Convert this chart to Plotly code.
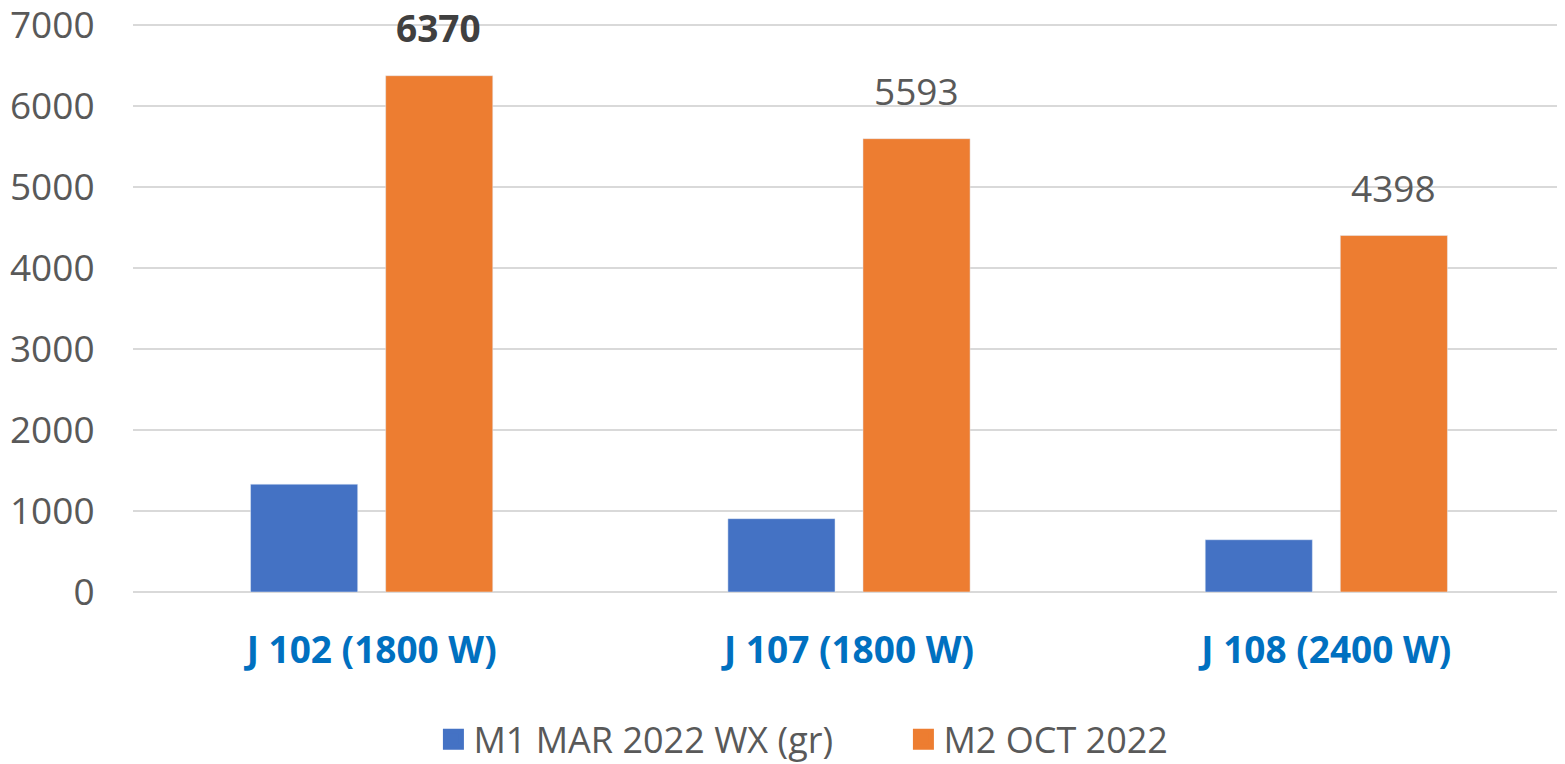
import plotly.graph_objects as go

categories = ["J 102 (1800 W)", "J 107 (1800 W)", "J 108 (2400 W)"]
series1_name = "M1 MAR 2022 WX (gr)"
series1_values = [1330, 905, 645]
series2_name = "M2 OCT 2022"
series2_values = [6370, 5593, 4398]
y_ticks = [0, 1000, 2000, 3000, 4000, 5000, 6000, 7000]

FONT = "Open Sans"
GRAY = "#595959"
BLUE = "#4472C4"
ORANGE = "#ED7D31"

fig = go.Figure()
fig.add_trace(go.Bar(x=categories, y=series1_values, name=series1_name,
                     marker=dict(color=BLUE), showlegend=False))
fig.add_trace(go.Bar(x=categories, y=series2_values, name=series2_name,
                     marker=dict(color=ORANGE), showlegend=False))
# legend entries (larger square keys)
for nm, col in [(series1_name, BLUE), (series2_name, ORANGE)]:
    fig.add_trace(go.Scatter(x=[None], y=[None], mode="markers", name=nm,
                             marker=dict(symbol="square", size=16, color=col,
                                         line=dict(color=col, width=5))))

# data labels for second series (first one bold)
for i, (c, v) in enumerate(zip(categories, series2_values)):
    txt = f"<b>{v}</b>" if i == 0 else str(v)
    fig.add_annotation(x=c, y=v, xref="x", yref="y", text=txt, showarrow=False,
                       xshift=67, yshift=48,
                       font=dict(family=FONT, size=37,
                                 color="#404040" if i == 0 else GRAY))

fig.update_layout(
    width=1557, height=756,
    margin=dict(l=125, r=0, t=15, b=172, autoexpand=False),
    paper_bgcolor="white", plot_bgcolor="white",
    barmode="group", bargap=0.434, bargroupgap=0.207,
    font=dict(family=FONT, color=GRAY),
    legend=dict(orientation="h", x=0.538, xanchor="center", y=-0.259, yanchor="middle",
                font=dict(family=FONT, size=36, color=GRAY),
                itemwidth=30, entrywidth=425, tracegroupgap=0, traceorder="normal"),
    showlegend=True,
)
fig.update_xaxes(
    tickfont=dict(family=FONT, size=37, color="#0070C0", weight="bold"),
    ticks="outside", ticklen=26, tickcolor="rgba(0,0,0,0)",
    showline=False, showgrid=False, automargin=False,
)
fig.update_yaxes(
    range=[0, 7020], tickvals=y_ticks,
    tickfont=dict(family=FONT, size=37, color=GRAY),
    ticks="outside", ticklen=30, tickcolor="rgba(0,0,0,0)",
    ticklabeloverflow="allow",
    showgrid=True, gridcolor="#D9D9D9", gridwidth=2,
    zeroline=True, zerolinecolor="#D9D9D9", zerolinewidth=2,
    showline=False, automargin=False,
)

fig.write_html("out.html")
